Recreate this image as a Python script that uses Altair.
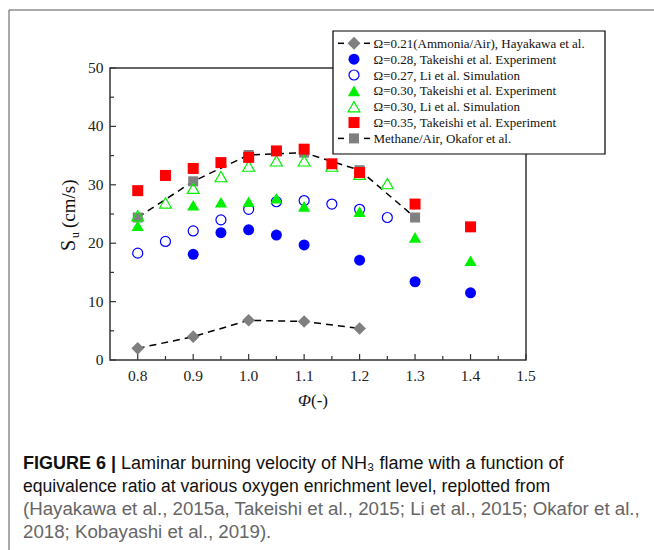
import altair as alt
import pandas as pd

# ---------------- data ----------------
haya_phi = [0.8, 0.9, 1.0, 1.1, 1.2]
haya_su = [2.0, 4.0, 6.8, 6.6, 5.4]

tk28_phi = [0.9, 0.95, 1.0, 1.05, 1.1, 1.2, 1.3, 1.4]
tk28_su = [18.1, 21.8, 22.3, 21.4, 19.7, 17.1, 13.4, 11.5]

li27_phi = [0.8, 0.85, 0.9, 0.95, 1.0, 1.05, 1.1, 1.15, 1.2, 1.25]
li27_su = [18.3, 20.3, 22.1, 24.0, 25.8, 27.1, 27.3, 26.7, 25.8, 24.4]

tk30_phi = [0.8, 0.9, 0.95, 1.0, 1.05, 1.1, 1.2, 1.3, 1.4]
tk30_su = [23.0, 26.5, 27.0, 27.1, 27.7, 26.3, 25.4, 21.0, 17.0]

li30_phi = [0.8, 0.85, 0.9, 0.95, 1.0, 1.05, 1.1, 1.15, 1.2, 1.25]
li30_su = [24.7, 26.9, 29.4, 31.4, 33.2, 34.1, 34.1, 33.2, 31.8, 30.2]

tk35_phi = [0.8, 0.85, 0.9, 0.95, 1.0, 1.05, 1.1, 1.15, 1.2, 1.3, 1.4]
tk35_su = [29.0, 31.6, 32.8, 33.8, 34.7, 35.8, 36.1, 33.6, 32.1, 26.7, 22.8]

meth_phi = [0.8, 0.9, 1.0, 1.1, 1.2, 1.3]
meth_su = [24.4, 30.6, 35.1, 35.5, 32.5, 24.4]

legend_labels = [
    "Ω=0.21(Ammonia/Air), Hayakawa et al.",
    "Ω=0.28, Takeishi et al. Experiment",
    "Ω=0.27, Li et al. Simulation",
    "Ω=0.30, Takeishi et al. Experiment",
    "Ω=0.30, Li et al. Simulation",
    "Ω=0.35, Takeishi et al. Experiment",
    "Methane/Air, Okafor et al.",
]

x_major = [0.8, 0.9, 1.0, 1.1, 1.2, 1.3, 1.4, 1.5]
x_minor = [0.85, 0.95, 1.05, 1.15, 1.25, 1.35, 1.45]
y_major = [0, 10, 20, 30, 40, 50]
y_minor = [5, 15, 25, 35, 45]
x_labels = ["0.8", "0.9", "1.0", "1.1", "1.2", "1.3", "1.4", "1.5"]
y_labels = ["0", "10", "20", "30", "40", "50"]

caption_bold = "FIGURE 6 |"
caption_lines = [
    "Laminar burning velocity of NH₃ flame with a function of",
    "equivalence ratio at various oxygen enrichment level, replotted from",
    "(Hayakawa et al., 2015a, Takeishi et al., 2015; Li et al., 2015; Okafor et al.,",
    "2018; Kobayashi et al., 2019).",
]

# ---------------- layout ----------------
W, H = 416, 292
PL, PT = 110, 68
SERIF = "Liberation Serif"
SANS = "Liberation Sans Narrow, Liberation Sans, Arial"

xscale = alt.Scale(domain=[0.75, 1.5], nice=False, zero=False)
yscale = alt.Scale(domain=[0, 50], nice=False, zero=True)

X = alt.X("phi:Q", scale=xscale, axis=None)
Y = alt.Y("su:Q", scale=yscale, axis=None)


def df(phi, su):
    return pd.DataFrame({"phi": phi, "su": su})


one = pd.DataFrame({"k": [0]})
layers = []

DASH = [7, 5]
# methane
layers.append(alt.Chart(df(meth_phi, meth_su)).mark_line(color="black", strokeDash=DASH, strokeWidth=1.5)
              .encode(x=X, y=Y))
layers.append(alt.Chart(df(meth_phi, meth_su)).mark_point(shape="square", filled=True, color="#808080",
                                                         size=100, opacity=1).encode(x=X, y=Y))
# hayakawa
layers.append(alt.Chart(df(haya_phi, haya_su)).mark_line(color="black", strokeDash=DASH, strokeWidth=1.5)
              .encode(x=X, y=Y))
layers.append(alt.Chart(df(haya_phi, haya_su)).mark_point(shape="diamond", filled=True, color="#7f7f7f",
                                                         size=160, opacity=1).encode(x=X, y=Y))
BLUE, GREEN, RED = "#0000ff", "#00f000", "#ff0000"
layers.append(alt.Chart(df(tk28_phi, tk28_su)).mark_point(shape="circle", filled=True, color=BLUE,
                                                         size=121, opacity=1).encode(x=X, y=Y))
layers.append(alt.Chart(df(li27_phi, li27_su)).mark_point(shape="circle", filled=False, color=BLUE,
                                                         size=100, strokeWidth=1.2, opacity=1).encode(x=X, y=Y))
layers.append(alt.Chart(df(tk30_phi, tk30_su)).mark_point(shape="triangle-up", filled=True, color=GREEN,
                                                         size=150, opacity=1).encode(x=X, y=Y))
layers.append(alt.Chart(df(li30_phi, li30_su)).mark_point(shape="triangle-up", filled=False, color=GREEN,
                                                         size=140, strokeWidth=1.2, opacity=1).encode(x=X, y=Y))
layers.append(alt.Chart(df(tk35_phi, tk35_su)).mark_point(shape="square", filled=True, color=RED,
                                                         size=121, opacity=1).encode(x=X, y=Y))

# tick marks (inside) and tick labels, positioned by the scales
layers.append(alt.Chart(pd.DataFrame({"phi": x_major})).mark_rule(color="#333", strokeWidth=1.2)
              .encode(x=X, y=alt.value(H), y2=alt.value(H - 6)))
layers.append(alt.Chart(pd.DataFrame({"phi": x_minor})).mark_rule(color="#333", strokeWidth=1.2)
              .encode(x=X, y=alt.value(H), y2=alt.value(H - 4)))
layers.append(alt.Chart(pd.DataFrame({"su": y_major})).mark_rule(color="#333", strokeWidth=1.2)
              .encode(y=Y, x=alt.value(0), x2=alt.value(6)))
layers.append(alt.Chart(pd.DataFrame({"su": y_minor})).mark_rule(color="#333", strokeWidth=1.2)
              .encode(y=Y, x=alt.value(0), x2=alt.value(4)))
layers.append(alt.Chart(pd.DataFrame({"phi": x_major, "lab": x_labels}))
              .mark_text(font=SERIF, fontSize=15.5, align="center", baseline="alphabetic", color="#222")
              .encode(x=X, y=alt.value(H + 20.5), text="lab:N"))
layers.append(alt.Chart(pd.DataFrame({"su": y_major, "lab": y_labels}))
              .mark_text(font=SERIF, fontSize=15.5, align="right", baseline="middle", color="#222")
              .encode(y=Y, x=alt.value(-6.5), text="lab:N"))

# ---------------- legend (manual) ----------------
LX0, LX1, LY0, LY1 = 333 - PL, 605 - PL, 31 - PT, 154 - PT
layers.append(alt.Chart(one).mark_rect(fill="white", stroke="black", strokeWidth=1.2)
              .encode(x=alt.value(LX0), x2=alt.value(LX1), y=alt.value(LY0), y2=alt.value(LY1)))
row0, drow = 43.3 - PT, 15.85
sym_x = 354 - PL
txt_x = 373.5 - PL
sym_specs = [
    dict(shape="diamond", filled=True, color="#7f7f7f", size=170),
    dict(shape="circle", filled=True, color=BLUE, size=121),
    dict(shape="circle", filled=False, color=BLUE, size=100, strokeWidth=1.2),
    dict(shape="triangle-up", filled=True, color=GREEN, size=150),
    dict(shape="triangle-up", filled=False, color=GREEN, size=140, strokeWidth=1.2),
    dict(shape="square", filled=True, color=RED, size=121),
    dict(shape="square", filled=True, color="#808080", size=100),
]
for i, (lab, spec) in enumerate(zip(legend_labels, sym_specs)):
    yy = row0 + i * drow
    if i in (0, 6):
        for a, b in ((338, 344), (364, 370)):
            layers.append(alt.Chart(one).mark_rule(color="black", strokeWidth=1.5)
                          .encode(x=alt.value(a - PL), x2=alt.value(b - PL), y=alt.value(yy)))
    layers.append(alt.Chart(one).mark_point(opacity=1, **spec)
                  .encode(x=alt.value(sym_x), y=alt.value(yy)))
    layers.append(alt.Chart(one).mark_text(text=lab, font=SERIF, fontSize=13, align="left",
                                           baseline="middle", color="#111")
                  .encode(x=alt.value(txt_x), y=alt.value(yy + 0.5)))

# ---------------- axis titles ----------------
layers.append(alt.Chart(one).mark_text(text="S", font=SERIF, fontSize=20, angle=270, align="left",
                                       baseline="alphabetic", color="#111")
              .encode(x=alt.value(75 - PL), y=alt.value(251 - PT)))
layers.append(alt.Chart(one).mark_text(text="u", font=SERIF, fontSize=12, angle=270, align="left",
                                       baseline="alphabetic", color="#111")
              .encode(x=alt.value(79 - PL), y=alt.value(238 - PT)))
layers.append(alt.Chart(one).mark_text(text="(cm/s)", font=SERIF, fontSize=19, angle=270, align="left",
                                       baseline="alphabetic", color="#111")
              .encode(x=alt.value(75 - PL), y=alt.value(228 - PT)))
layers.append(alt.Chart(one).mark_text(text="Φ", font=SERIF, fontSize=17, fontStyle="italic",
                                       align="left", baseline="alphabetic", color="#111")
              .encode(x=alt.value(298 - PL), y=alt.value(406 - PT)))
layers.append(alt.Chart(one).mark_text(text="(-)", font=SERIF, fontSize=17, align="left",
                                       baseline="alphabetic", color="#111")
              .encode(x=alt.value(311 - PL), y=alt.value(406 - PT)))

# ---------------- caption ----------------
CAP_X = 23 - PL
cap_base = [469, 492, 515, 538]
layers.append(alt.Chart(one).mark_text(text=caption_bold, font=SANS, fontSize=18, fontWeight="bold",
                                       align="left", baseline="alphabetic", color="#111")
              .encode(x=alt.value(CAP_X), y=alt.value(cap_base[0] - PT)))
cap_colors = ["#111", "#111", "#666", "#666"]
cap_sizes = [18, 17.6, 18.7, 18.7]
cap_x = [121 - PL, CAP_X, CAP_X, CAP_X]
for i, line in enumerate(caption_lines):
    layers.append(alt.Chart(one).mark_text(text=line, font=SANS, fontSize=cap_sizes[i], align="left",
                                           baseline="alphabetic", color=cap_colors[i])
                  .encode(x=alt.value(cap_x[i]), y=alt.value(cap_base[i] - PT)))

# ---------------- outer frame ----------------
layers.append(alt.Chart(one).mark_rule(color="#555", strokeWidth=1)
              .encode(x=alt.value(9 - PL), x2=alt.value(660 - PL), y=alt.value(10 - PT)))
layers.append(alt.Chart(one).mark_rule(color="#555", strokeWidth=1)
              .encode(x=alt.value(9 - PL), y=alt.value(10 - PT), y2=alt.value(560 - PT)))

chart = alt.layer(*layers).properties(
    width=W, height=H,
    autosize=alt.AutoSizeParams(type="none"),
    padding={"left": PL, "top": PT, "right": 654 - PL - W, "bottom": 550 - PT - H},
    background="white",
).configure_view(stroke="#333", strokeWidth=1.5)

chart.save("out.html", embed_options={"renderer": "svg", "actions": False})
